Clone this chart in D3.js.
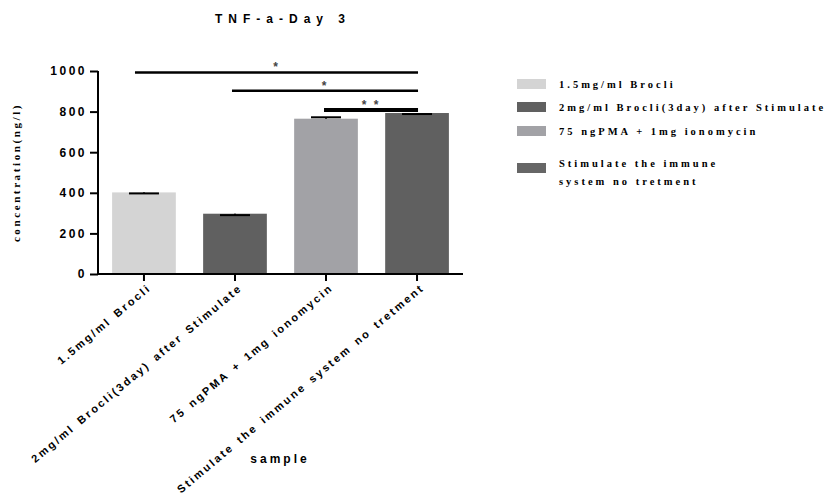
<!DOCTYPE html>
<html>
<head>
<meta charset="utf-8">
<script src="https://cdn.jsdelivr.net/npm/d3@7"></script>
<style>
  body { margin: 0; background: #fff; }
  svg text { fill: #000; }
</style>
</head>
<body>
<div id="chart"></div>
<script>
// data
var categories = ["1.5mg/ml Brocli", "2mg/ml Brocli(3day) after Stimulate", "75 ngPMA + 1mg ionomycin", "Stimulate the immune system no tretment"];
var values = [402, 297, 765, 793];
var errCaps = [397, 290, 772, 788];
var colors = ["#d4d4d4", "#606060", "#a2a2a6", "#606060"];
var yTicks = [0, 200, 400, 600, 800, 1000];
var legendLines = [["1.5mg/ml Brocli"], ["2mg/ml Brocli(3day) after Stimulate"], ["75 ngPMA + 1mg ionomycin"], ["Stimulate the immune", "system no tretment"]];
// significance brackets: from category, to category, height, label
var sigFrom = [0, 1, 2];
var sigTo = [3, 3, 3];
var sigLevel = [993, 903, 808];
var sigLabel = ["*", "*", "* *"];

var width = 827, height = 502;
var margin = { left: 98, top: 71 };
var plot_width = 365, plot_height = 203;

var svg = d3.select("#chart").append("svg")
  .attr("width", width)
  .attr("height", height);

var x = d3.scaleBand()
  .domain(d3.range(categories.length))
  .range([margin.left, margin.left + plot_width])
  .paddingInner(0.3)
  .paddingOuter(0.155);

var y = d3.scaleLinear()
  .domain([0, 1000])
  .range([margin.top + plot_height, margin.top]);

// Title
svg.append("text")
  .attr("x", 283)
  .attr("y", 23)
  .attr("text-anchor", "middle")
  .style("font-family", "Liberation Sans, Arial, sans-serif")
  .style("font-weight", "bold")
  .style("font-size", "12px")
  .style("letter-spacing", "6px")
  .text("TNF-a-Day 3");

// Bars
svg.selectAll(".bar")
  .data(values)
  .enter().append("rect")
  .attr("class", "bar")
  .attr("x", function (d, i) { return x(i); })
  .attr("y", function (d) { return y(d); })
  .attr("width", x.bandwidth())
  .attr("height", function (d) { return y(0) - y(d); })
  .style("fill", function (d, i) { return colors[i]; });

// Error bar caps
svg.selectAll(".cap")
  .data(errCaps)
  .enter().append("line")
  .attr("x1", function (d, i) { return x(i) + x.bandwidth() / 2 - 15; })
  .attr("x2", function (d, i) { return x(i) + x.bandwidth() / 2 + 15; })
  .attr("y1", function (d) { return y(d); })
  .attr("y2", function (d) { return y(d); })
  .style("stroke", "#000")
  .style("stroke-width", 2);

svg.selectAll(".stem")
  .data(errCaps)
  .enter().append("line")
  .attr("x1", function (d, i) { return x(i) + x.bandwidth() / 2; })
  .attr("x2", function (d, i) { return x(i) + x.bandwidth() / 2; })
  .attr("y1", function (d) { return y(d); })
  .attr("y2", function (d, i) { return y(values[i]); })
  .style("stroke", "#000")
  .style("stroke-width", 2);

// Y axis
var yAxis = svg.append("g")
  .attr("transform", "translate(" + margin.left + ",0)")
  .call(d3.axisLeft(y).tickValues(yTicks).tickSize(8).tickPadding(3).tickFormat(d3.format("d")));
yAxis.select(".domain").attr("d", "M0," + y(0) + "V" + y(1000)).style("stroke-width", 2);
yAxis.selectAll(".tick line").style("stroke-width", 2);
yAxis.selectAll("text")
  .style("font-family", "Liberation Sans, Arial, sans-serif")
  .style("font-weight", "bold")
  .style("font-size", "12px")
  .style("letter-spacing", "2.5px");

// X axis
var xAxis = svg.append("g")
  .attr("transform", "translate(0," + y(0) + ")")
  .call(d3.axisBottom(x).tickSize(7).tickFormat(function (i) { return categories[i]; }));
xAxis.select(".domain").attr("d", "M" + margin.left + ",0H" + (margin.left + plot_width)).style("stroke-width", 2);
xAxis.selectAll(".tick line").style("stroke-width", 2);
xAxis.selectAll("text")
  .attr("x", 0)
  .attr("y", 0)
  .attr("dy", 0)
  .attr("text-anchor", "end")
  .attr("transform", "translate(8,15) rotate(-40)")
  .style("font-family", "Liberation Sans, Arial, sans-serif")
  .style("font-weight", "bold")
  .style("font-size", "11px")
  .style("letter-spacing", "2.3px")
  .style("word-spacing", "2px");

// X axis title
svg.append("text")
  .attr("x", 280)
  .attr("y", 463)
  .attr("text-anchor", "middle")
  .style("font-family", "Liberation Sans, Arial, sans-serif")
  .style("font-weight", "bold")
  .style("font-size", "12px")
  .style("letter-spacing", "3px")
  .text("sample");

// Y axis title
svg.append("text")
  .attr("transform", "translate(20," + (margin.top + plot_height / 2) + ") rotate(-90)")
  .attr("text-anchor", "middle")
  .style("font-family", "Liberation Serif, Times New Roman, serif")
  .style("font-weight", "bold")
  .style("font-size", "11px")
  .style("letter-spacing", "2.6px")
  .text("concentration(ng/l)");

// Significance brackets
sigFrom.forEach(function (f, k) {
  var x1 = x(f) + x.bandwidth() / 2 - (k === 0 ? 9 : (k === 1 ? 3 : 2));
  var x2 = x(sigTo[k]) + x.bandwidth() / 2 + 1;
  svg.append("line")
    .attr("x1", x1)
    .attr("x2", x2)
    .attr("y1", y(sigLevel[k]))
    .attr("y2", y(sigLevel[k]))
    .style("stroke", "#000")
    .style("stroke-width", k === 2 ? 4 : 2.5);
  svg.append("text")
    .attr("x", (x1 + x2) / 2)
    .attr("y", y(sigLevel[k]) - 1)
    .attr("text-anchor", "middle")
    .style("font-family", "Liberation Sans, Arial, sans-serif")
    .style("font-weight", "bold")
    .style("font-size", "12px")
    .style("letter-spacing", "2px")
    .style("fill", "#444")
    .text(sigLabel[k]);
});

// Legend
var legendY = [84, 107, 131, 168];
var legend = svg.selectAll(".legend")
  .data(legendLines)
  .enter().append("g")
  .attr("transform", function (d, i) { return "translate(517," + legendY[i] + ")"; });

legend.append("rect")
  .attr("x", 0)
  .attr("y", -5)
  .attr("width", 29)
  .attr("height", 10)
  .style("fill", function (d, i) { return i === 3 ? "#666" : colors[i]; });

legend.each(function (lines) {
  var g = d3.select(this);
  var off = lines.length > 1 ? -5 : 0;
  lines.forEach(function (t, j) {
    g.append("text")
      .attr("x", 42)
      .attr("y", off + j * 18 + 4)
      .style("font-family", "Liberation Serif, Times New Roman, serif")
      .style("font-weight", "bold")
      .style("font-size", "10.5px")
      .style("letter-spacing", "3px")
      .text(t);
  });
});
</script>
</body>
</html>
